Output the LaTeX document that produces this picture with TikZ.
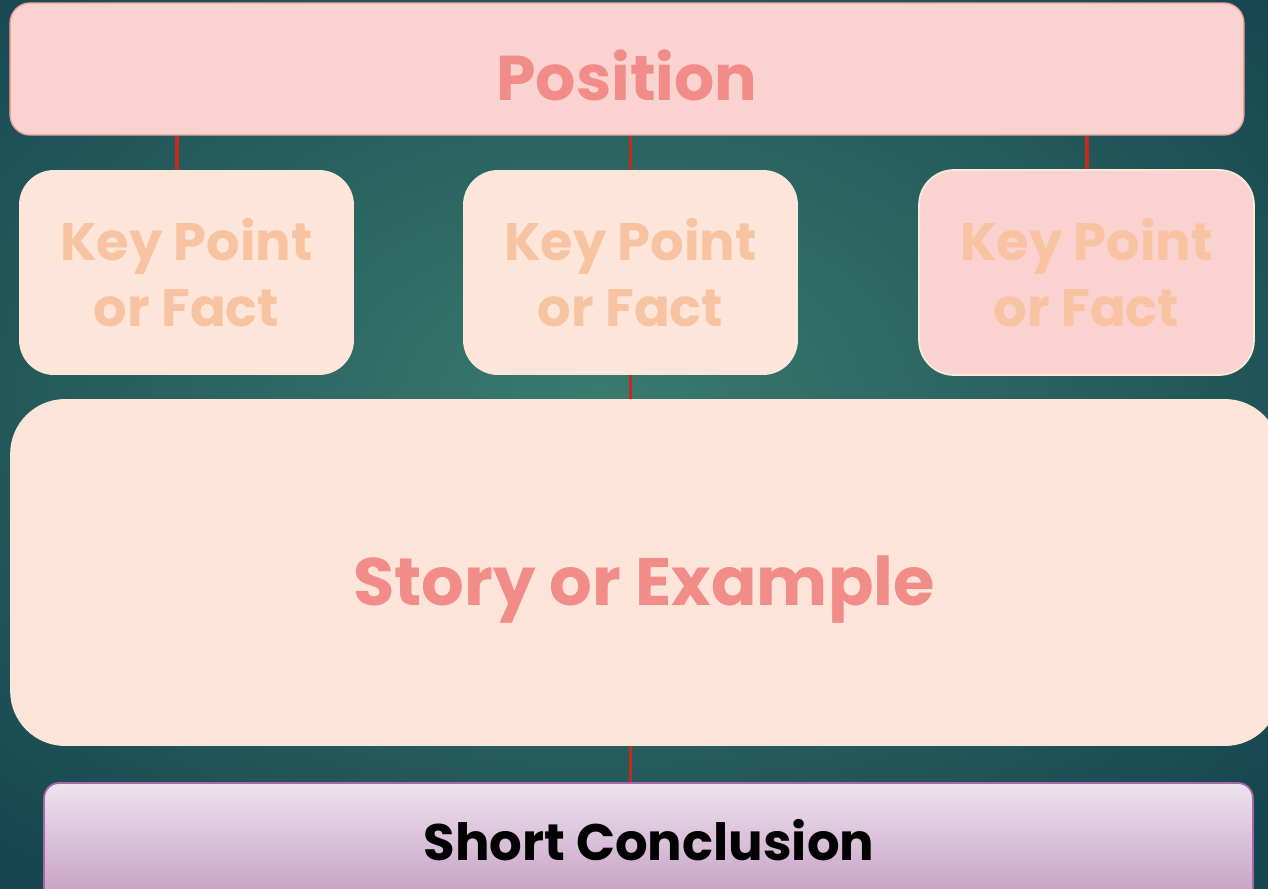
\documentclass[tikz,border=0pt]{standalone}
\usepackage{fontspec}
\setmainfont{Poppins}
\definecolor{bgin}{HTML}{3A7B6E}
\definecolor{bgout}{HTML}{164650}
\definecolor{posfill}{HTML}{FAD2CF}
\definecolor{posdraw}{HTML}{F2A19B}
\definecolor{salmontext}{HTML}{F28C88}
\definecolor{kpfill}{HTML}{FDE5DA}
\definecolor{kptext}{HTML}{F8C3A1}
\definecolor{kpdraw}{HTML}{FDE8DA}
\definecolor{stfill}{HTML}{FDE4D9}
\definecolor{cotop}{HTML}{EDE3EE}
\definecolor{cobot}{HTML}{C49BC2}
\definecolor{codraw}{HTML}{A768A8}
\definecolor{linkred}{HTML}{C42B1E}
\begin{document}
\begin{tikzpicture}[x=0.02cm,y=-0.02cm,
  posbox/.style={rectangle,rounded corners=0.4cm,fill=posfill,draw=posdraw,line width=0.8pt,
    minimum width=24.68cm,minimum height=2.64cm,inner sep=0pt},
  postext/.style={anchor=base,inner sep=0pt,text=salmontext,
    font=\fontsize{36}{44}\selectfont\bfseries},
  kpbox/.style={rectangle,rounded corners=0.7cm,fill=kpfill,minimum width=6.7cm,
    minimum height=4.1cm,inner sep=0pt,text=kptext,align=center,
    font=\fontsize{30}{37.4}\selectfont\bfseries},
  storybox/.style={rectangle,rounded corners=1.1cm,fill=stfill,minimum width=25.4cm,
    minimum height=6.94cm,inner sep=0pt},
  storytext/.style={anchor=base,inner sep=0pt,text=salmontext,
    font=\fontsize{38.2}{46}\selectfont\bfseries},
  conbox/.style={rectangle,rounded corners=0.3cm,top color=cotop,bottom color=cobot,
    draw=codraw,line width=1pt,minimum width=24.18cm,minimum height=2.44cm,inner sep=0pt},
  context/.style={anchor=base,inner sep=0pt,text=black,
    font=\fontsize{29.2}{35}\selectfont\bfseries},
  link/.style={draw=linkred,line width=2pt}]
\useasboundingbox (0,0) rectangle (1268,889);
\clip (0,0) rectangle (1268,889);
\shade[inner color=bgin,outer color=bgout] (-300,-200) rectangle (1500,1000);
\node[posbox] (pos) at (627,69) {};
\node[postext] (postx) at (627,100) {Position};
\node[kpbox] (kp1) at (186.5,272.5) {Key Point\\or Fact};
\node[kpbox] (kp2) at (630.5,272.5) {Key Point\\or Fact};
\node[kpbox,fill=posfill,draw=kpdraw,line width=1pt] (kp3) at (1086.5,272.5) {Key Point\\or Fact};
\node[storybox] (story) at (645,572.5) {};
\node[storytext] (storytx) at (644,605) {Story or Example};
\node[conbox] (con) at (648.5,844) {};
\node[context] (contx) at (649,860) {Short Conclusion};
\path (kp1.north) ++(-9.5,0) coordinate (t1);
\path (kp3.north) ++(0.5,0) coordinate (t3);
\draw[link] (t1 |- pos.south) -- (t1);
\draw[link] (kp2.north |- pos.south) -- (kp2.north);
\draw[link] (t3 |- pos.south) -- (t3);
\draw[link] (kp2.south) -- (kp2.south |- story.north);
\draw[link] (story.south -| kp2.south) -- (con.north -| kp2.south);
\end{tikzpicture}
\end{document}
